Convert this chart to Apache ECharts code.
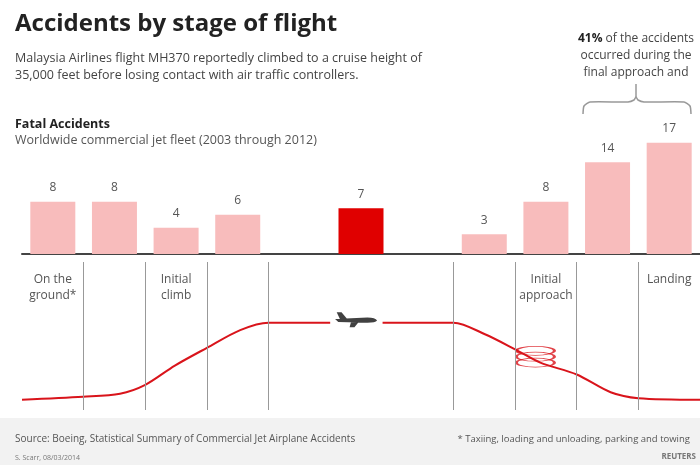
<!DOCTYPE html><html><head><meta charset="utf-8"><script src="https://cdn.jsdelivr.net/npm/echarts@6/dist/echarts.min.js"></script>
<style>html,body{margin:0;background:#fff}#c{width:700px;height:465px}</style></head><body><div id="c"></div><script>
const categories=['On the\nground*','Takeoff','Initial\nclimb','Climb','','Cruise','','Descent','Initial\napproach','Final\napproach','Landing'];
const accidents=[8,8,4,6,null,7,null,3,8,14,17];
const dividers=[1,2,3,4,7,8,9,10,11];
const flightPath=[[0,0.07],[0.99,0.09],[1.59,0.11],[2.0,0.17],[2.48,0.30],[3.0,0.42],[3.54,0.54],[4.0,0.59],[5.0,0.59],null,[5.85,0.59],[7.0,0.59],[7.52,0.51],[8.0,0.41],[8.41,0.32],[9.0,0.24],[9.55,0.12],[10.0,0.08],[11.0,0.07]];
const holding=[[8.33,0.40],[8.33,0.36],[8.33,0.32]];
const plane=[[5.42,0.61]];
const ch=echarts.init(document.getElementById('c'));
const F='"Open Sans",Lato,sans-serif';
ch.setOption({animation:false,textStyle:{fontFamily:F},
grid:[{left:22,right:0,top:110,height:144},{left:22,right:0,top:262,height:148}],
xAxis:[{type:'category',gridIndex:0,data:categories,axisLabel:{show:false},axisTick:{show:false},axisLine:{lineStyle:{color:'#444',width:2}}},
{type:'category',gridIndex:1,data:categories,position:'top',axisLine:{show:false},axisTick:{show:false},axisLabel:{inside:true,margin:10,color:'#555',fontSize:12,lineHeight:16,verticalAlign:'top'}},
{type:'value',gridIndex:1,min:0,max:11,show:false}],
yAxis:[{type:'value',gridIndex:0,min:0,max:22,show:false},{type:'value',gridIndex:1,min:0,max:1,show:false}],
series:[{type:'bar',xAxisIndex:0,yAxisIndex:0,data:accidents.map((v,i)=>({value:v,itemStyle:{color:i===5?'#e00000':'#f8bcbc'}})),barWidth:45,label:{show:true,position:'top',color:'#555',fontSize:12,distance:8}},
{type:'line',xAxisIndex:2,yAxisIndex:1,data:flightPath,smooth:0.3,showSymbol:false,connectNulls:false,lineStyle:{color:'#d9141b',width:2},
 markLine:{silent:true,symbol:'none',label:{show:false},lineStyle:{color:'#999',width:1,type:'solid'},data:dividers.map(d=>({xAxis:d}))}},
{type:'scatter',xAxisIndex:2,yAxisIndex:1,data:holding,symbol:'path://M0,5 A20,5 0 1,0 40,5 A20,5 0 1,0 0,5 Z',symbolSize:[38,9],itemStyle:{color:'rgba(0,0,0,0)',borderColor:'#d9141b',borderWidth:1.5}},
{type:'scatter',xAxisIndex:2,yAxisIndex:1,data:plane,symbol:'path://M0,10 L40,8 Q50,8 52,12 Q50,15 40,15 L4,14 Z M2,1 L8,1 L15,10 L6,10 Z M20,13 L30,13 L24,21 L18,21 Z',symbolSize:[42,15],itemStyle:{color:'#111'}}],
graphic:[
{type:'rect',shape:{x:0,y:418,width:700,height:47},style:{fill:'#f2f2f2'}},
{type:'text',x:15,y:12,style:{text:'Accidents by stage of flight',font:'bold 24px '+F,fill:'#222'}},
{type:'text',x:15,y:50,style:{text:'Malaysia Airlines flight MH370 reportedly climbed to a cruise height of\n35,000 feet before losing contact with air traffic controllers.',font:'12.5px '+F,fill:'#444',lineHeight:17}},
{type:'text',x:15,y:118,style:{text:'Fatal Accidents',font:'bold 12.5px '+F,fill:'#222'}},
{type:'text',x:15,y:134,style:{text:'Worldwide commercial jet fleet (2003 through 2012)',font:'12.5px '+F,fill:'#555'}},
{type:'text',x:636,y:30,style:{rich:{b:{font:'bold 12px '+F,fill:'#222'},n:{font:'12px '+F,fill:'#444'}},text:'{b|41%}{n| of the accidents}\n{n|occurred during the}\n{n|final approach and}',align:'center',lineHeight:17}},
{type:'polyline',shape:{points:[[636,84],[636,98]]},style:{stroke:'#999',lineWidth:1.5}},
{type:'polyline',shape:{points:[[583,114],[584,106],[590,102],[628,102],[634,100],[636,97],[638,100],[644,102],[684,102],[690,106],[691,114]],smooth:0.2},style:{stroke:'#999',lineWidth:1.5,fill:null}},
{type:'text',x:15,y:434,style:{text:'Source: Boeing, Statistical Summary of Commercial Jet Airplane Accidents',font:'10px '+F,fill:'#555'}},
{type:'text',x:690,y:434,style:{text:'* Taxiing, loading and unloading, parking and towing',font:'9.5px '+F,fill:'#555',align:'right'}},
{type:'text',x:15,y:454,style:{text:'S. Scarr, 08/03/2014',font:'7px '+F,fill:'#777'}},
{type:'text',x:696,y:453,style:{text:'REUTERS',font:'bold 8px '+F,fill:'#777',align:'right'}}
]});
</script></body></html>
